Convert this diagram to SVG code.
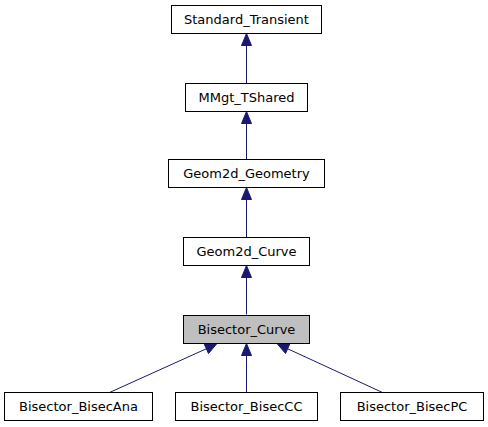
<svg xmlns="http://www.w3.org/2000/svg" width="488" height="427" viewBox="0 0 488 427">
<style>
.node rect{fill:#ffffff;stroke:#000000;stroke-width:1}
.node.cur rect{fill:#bfbfbf}
.node text{font-family:"DejaVu Sans",sans-serif;font-size:13px;text-anchor:middle;fill:#000000}
.edge{stroke:#191970;stroke-width:1;fill:none}
.head{fill:#191970;stroke:#191970;stroke-width:1}
</style>
<rect width="488" height="427" fill="#ffffff"/>
<g id="connectors">
<line class="edge" x1="246.5" y1="83.5" x2="246.5" y2="44"/>
<polygon class="head" points="246.5,33.5 241.5,45.5 251.5,45.5"/>
<line class="edge" x1="246.5" y1="159.5" x2="246.5" y2="122"/>
<polygon class="head" points="246.5,111.5 241.5,123.5 251.5,123.5"/>
<line class="edge" x1="246.5" y1="237.5" x2="246.5" y2="198"/>
<polygon class="head" points="246.5,187.5 241.5,199.5 251.5,199.5"/>
<line class="edge" x1="246.5" y1="314.5" x2="246.5" y2="276"/>
<polygon class="head" points="246.5,265.5 241.5,277.5 251.5,277.5"/>
<line class="edge" x1="246.5" y1="392.5" x2="246.5" y2="354"/>
<polygon class="head" points="246.5,343.5 241.5,355.5 251.5,355.5"/>
<line class="edge" x1="109.5" y1="392.5" x2="208" y2="348"/>
<polygon class="head" points="217,343.5 204,343.5 208.5,353.5"/>
<line class="edge" x1="382.5" y1="392.5" x2="286" y2="348"/>
<polygon class="head" points="277,343.5 290,343.5 285.5,353.5"/>
</g>
<g id="Standard_Transient" class="node"><rect x="171.5" y="5.5" width="150" height="28"/><text x="246.5" y="24">Standard_Transient</text></g>
<g id="MMgt_TShared" class="node"><rect x="185.5" y="83.5" width="122" height="28"/><text x="246.5" y="102">MMgt_TShared</text></g>
<g id="Geom2d_Geometry" class="node"><rect x="168.5" y="159.5" width="156" height="28"/><text x="246.5" y="178">Geom2d_Geometry</text></g>
<g id="Geom2d_Curve" class="node"><rect x="183.5" y="237.5" width="126" height="28"/><text x="246.5" y="256">Geom2d_Curve</text></g>
<g id="Bisector_Curve" class="node cur"><rect x="183.5" y="315.5" width="126" height="28"/><text x="246.5" y="334">Bisector_Curve</text></g>
<g id="Bisector_BisecAna" class="node"><rect x="4.5" y="392.5" width="148" height="28"/><text x="78.5" y="411">Bisector_BisecAna</text></g>
<g id="Bisector_BisecCC" class="node"><rect x="175.5" y="392.5" width="142" height="28"/><text x="246.5" y="411">Bisector_BisecCC</text></g>
<g id="Bisector_BisecPC" class="node"><rect x="340.5" y="392.5" width="143" height="28"/><text x="412" y="411">Bisector_BisecPC</text></g>
</svg>
